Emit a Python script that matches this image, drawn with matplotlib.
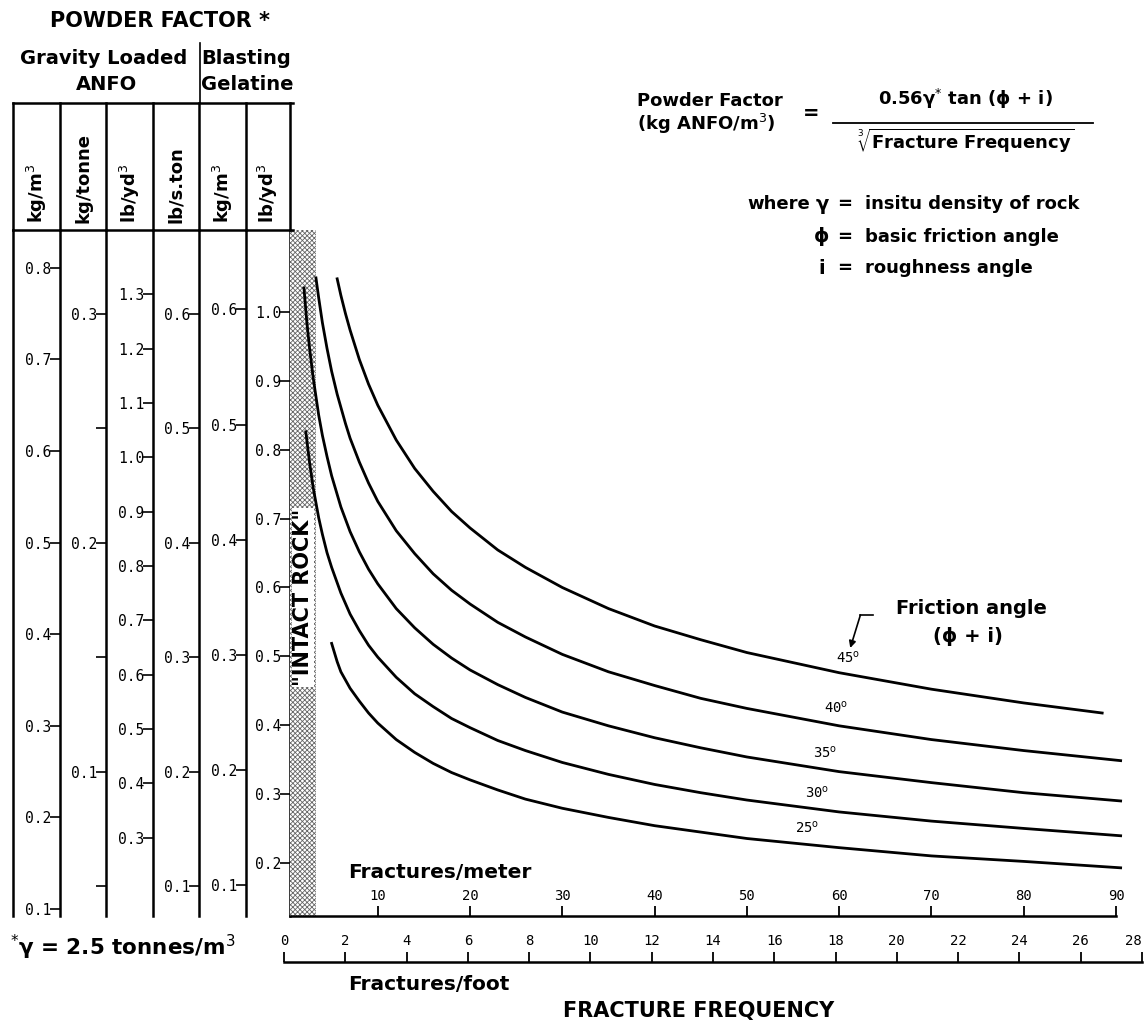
import matplotlib
matplotlib.use("Agg")
import matplotlib.pyplot as plt

# Powder factor (kg ANFO/m3) against fracture frequency (fractures/metre)
angle_labels = ["45", "40", "35", "30", "25"]

ff_45 = [5.6, 6.0, 6.5, 7.0, 8, 9, 10, 12, 14, 16, 18, 20, 23, 26, 30, 35, 40, 45, 50, 60, 70, 80, 88.5]
pf_45 = [0.788, 0.770, 0.750, 0.732, 0.700, 0.673, 0.650, 0.612, 0.581, 0.556, 0.534, 0.516,
         0.492, 0.473, 0.451, 0.428, 0.409, 0.394, 0.380, 0.358, 0.340, 0.325, 0.314]

ff_40 = [3.3, 3.6, 4.0, 4.5, 5.0, 5.6, 6.5, 7, 8, 9, 10, 12, 14, 16, 18, 20, 23, 26, 30, 35,
         40, 45, 50, 60, 70, 80, 90.5]
pf_40 = [0.789, 0.767, 0.740, 0.712, 0.687, 0.662, 0.630, 0.614, 0.588, 0.565, 0.545, 0.513,
         0.488, 0.466, 0.448, 0.433, 0.413, 0.397, 0.378, 0.359, 0.344, 0.330, 0.319, 0.300,
         0.285, 0.273, 0.262]

ff_35 = [2.0, 2.3, 2.6, 3.0, 3.6, 4.0, 4.5, 5.0, 6.0, 7.0, 8, 9, 10, 12, 14, 16, 18, 20, 23,
         26, 30, 35, 40, 45, 50, 60, 70, 80, 90.5]
pf_35 = [0.778, 0.742, 0.713, 0.680, 0.639, 0.617, 0.594, 0.573, 0.539, 0.512, 0.490, 0.471,
         0.455, 0.428, 0.407, 0.389, 0.374, 0.361, 0.345, 0.331, 0.315, 0.300, 0.287, 0.276,
         0.266, 0.250, 0.238, 0.227, 0.218]

ff_30 = [2.2, 2.6, 3.0, 3.6, 4.0, 4.5, 5.0, 6.0, 7.0, 8, 9, 10, 12, 14, 16, 18, 20, 23, 26,
         30, 35, 40, 45, 50, 60, 70, 80, 90.5]
pf_30 = [0.621, 0.588, 0.560, 0.527, 0.509, 0.489, 0.473, 0.445, 0.422, 0.404, 0.388, 0.375,
         0.353, 0.335, 0.321, 0.308, 0.298, 0.284, 0.273, 0.260, 0.247, 0.236, 0.227, 0.219,
         0.206, 0.196, 0.188, 0.180]

ff_25 = [5.0, 5.6, 6.0, 6.5, 7.0, 8, 9, 10, 12, 14, 16, 18, 20, 23, 26, 30, 35, 40, 45, 50,
         60, 70, 80, 90.5]
pf_25 = [0.390, 0.370, 0.359, 0.350, 0.341, 0.327, 0.314, 0.303, 0.285, 0.271, 0.259, 0.249,
         0.241, 0.230, 0.220, 0.210, 0.200, 0.191, 0.184, 0.177, 0.167, 0.158, 0.152, 0.145]

curves = [(ff_45, pf_45), (ff_40, pf_40), (ff_35, pf_35), (ff_30, pf_30), (ff_25, pf_25)]
label_pos = [(61.0, 0.366), (59.7, 0.311), (58.5, 0.262), (57.6, 0.218), (56.5, 0.180)]

# powder factor scales on the left
col_units = ["kg/m$^3$", "kg/tonne", "lb/yd$^3$", "lb/s.ton", "kg/m$^3$", "lb/yd$^3$"]
col_factor = [1.0, 0.4, 1.6856, 0.8, 0.795, 1.33]   # unit per kg ANFO/m3
col_ticks = [
    [0.1, 0.2, 0.3, 0.4, 0.5, 0.6, 0.7, 0.8],
    [0.1, 0.2, 0.3],
    [0.3, 0.4, 0.5, 0.6, 0.7, 0.8, 0.9, 1.0, 1.1, 1.2, 1.3],
    [0.1, 0.2, 0.3, 0.4, 0.5, 0.6],
    [0.1, 0.2, 0.3, 0.4, 0.5, 0.6],
    [0.2, 0.3, 0.4, 0.5, 0.6, 0.7, 0.8, 0.9, 1.0],
]
col_minor = [[], [0.05, 0.15, 0.25], [], [], [], []]

metre_ticks = [10, 20, 30, 40, 50, 60, 70, 80, 90]
foot_ticks = list(range(0, 29, 2))
intact_limit = 3.28   # 1 fracture per foot

W, H = 1148, 1025
TOP, BOT = 230, 916
V_BOT, V_TOP = 0.0924, 0.8413
MONO = "DejaVu Sans Mono"
LW = 1.8

plt.rcParams["mathtext.fontset"] = "dejavusans"
plt.rcParams["hatch.linewidth"] = 0.6

fig = plt.figure(figsize=(W / 100, H / 100), dpi=100)


def px_axes(x0, y0, x1, y1):
    a = fig.add_axes([x0 / W, 1 - y1 / H, (x1 - x0) / W, (y1 - y0) / H])
    a.patch.set_visible(False)
    return a


# ---- left columns
col_x = [13, 60, 106, 153, 199, 246, 290]
for i in range(6):
    c = px_axes(col_x[i], TOP, col_x[i + 1], BOT)
    f = col_factor[i]
    c.set_ylim(V_BOT * f, V_TOP * f)
    c.set_xticks([])
    for s in ["top", "bottom", "left"]:
        c.spines[s].set_visible(False)
    if i == 0:
        c.spines["left"].set_visible(True)
    c.spines["left"].set_linewidth(LW)
    c.spines["right"].set_linewidth(LW)
    c.yaxis.tick_right()
    c.set_yticks(col_ticks[i])
    c.set_yticklabels([f"{t:.1f}" for t in col_ticks[i]])
    if col_minor[i]:
        c.set_yticks(col_minor[i], minor=True)
    c.tick_params(axis="y", which="both", direction="in", length=7, width=1.2,
                  pad=-6.0, labelsize=10.5, labelfontfamily=MONO,
                  left=False, right=True, labelleft=False, labelright=True)
    for t in c.yaxis.get_major_ticks():
        t.label2.set_horizontalalignment("right")

# ---- main chart
x_lo = (290 - 285.5) / 9.228
x_hi = (1130 - 285.5) / 9.228
ax = px_axes(290, TOP, 1130, BOT)
ax.set_xlim(x_lo, x_hi)
ax.set_ylim(V_BOT, V_TOP)
for s in ["top", "right", "left"]:
    ax.spines[s].set_visible(False)
ax.spines["bottom"].set_linewidth(LW)
ax.spines["bottom"].set_bounds(x_lo, 90)
ax.set_yticks([])
ax.set_xticks(metre_ticks)
ax.set_xticklabels([str(t) for t in metre_ticks])
ax.tick_params(axis="x", direction="in", length=7, width=1.3, pad=-9,
               labelsize=10, labelfontfamily=MONO)
for t in ax.xaxis.get_major_ticks():
    t.label1.set_verticalalignment("bottom")

ax.axvspan(x_lo, intact_limit, facecolor="white", edgecolor="0.4", hatch="xxxxxxx", linewidth=0)
ax.text((x_lo + intact_limit) / 2, 0.44, '"INTACT ROCK"', rotation=90, ha="center", va="center",
        fontsize=15, fontweight="bold",
        bbox=dict(facecolor="white", edgecolor="none", pad=0.5))

for (xs, ys), lab, (lx, ly) in zip(curves, angle_labels, label_pos):
    ax.plot(xs, ys, color="black", lw=2.0, solid_joinstyle="round")
    ax.text(lx, ly, lab + r"$^{\mathrm{o}}$", ha="center", va="bottom", fontsize=10, family=MONO)

ax.text(74.3, 0.4286, "Friction angle", ha="center", va="center", fontsize=14, fontweight="bold")
ax.text(74.0, 0.397, "(ϕ + i)", ha="center", va="center", fontsize=14, fontweight="bold")
ax.plot([63.7, 62.3], [0.421, 0.421], color="black", lw=1.2)
ax.annotate("", xy=(61.2, 0.385), xytext=(62.3, 0.421),
            arrowprops=dict(arrowstyle="-|>", color="black", lw=1.2, mutation_scale=10,
                            shrinkA=0, shrinkB=0))

# ---- fractures per foot scale
af = px_axes(284, 930, 1142, 962)
af.set_xlim(0, 28)
af.set_yticks([])
for s in ["top", "right", "left"]:
    af.spines[s].set_visible(False)
af.spines["bottom"].set_linewidth(LW)
af.set_xticks(foot_ticks)
af.set_xticklabels([str(t) for t in foot_ticks])
af.tick_params(axis="x", direction="in", length=7, width=1.3, pad=-10,
               labelsize=10, labelfontfamily=MONO)
for t in af.xaxis.get_major_ticks():
    t.label1.set_verticalalignment("bottom")
af.xaxis.get_major_ticks()[-1].label1.set_horizontalalignment("right")

# ---- header, formula and notes (pixel coordinates)
d = fig.add_axes([0, 0, 1, 1])
d.set_xlim(0, W)
d.set_ylim(H, 0)
d.axis("off")
B = dict(fontweight="bold", color="black")

d.text(160, 21, "POWDER FACTOR *", ha="center", va="center", fontsize=15, **B)
d.text(104, 58, "Gravity Loaded", ha="center", va="center", fontsize=14, **B)
d.text(107, 85, "ANFO", ha="center", va="center", fontsize=14, **B)
d.text(246, 58, "Blasting", ha="center", va="center", fontsize=14, **B)
d.text(247, 85, "Gelatine", ha="center", va="center", fontsize=14, **B)
d.plot([200, 200], [43, 103], color="black", lw=1.2)
d.plot([col_x[0], col_x[-1] + 3], [103, 103], color="black", lw=LW)
d.plot([col_x[0], col_x[-1] + 3], [TOP, TOP], color="black", lw=LW)
for x in col_x:
    d.plot([x, x], [103, TOP], color="black", lw=LW)
for i, u in enumerate(col_units):
    d.text((col_x[i] + col_x[i + 1]) / 2, 223, u, rotation=90, ha="center", va="bottom",
           fontsize=13, **B)

d.text(637, 101, "Powder Factor", ha="left", va="center", fontsize=13, **B)
d.text(637, 124, "(kg ANFO/m$^3$)", ha="left", va="center", fontsize=13, **B)
d.text(811, 113, "=", ha="center", va="center", fontsize=14, **B)
d.text(965, 99, "0.56γ$^{*}$ tan (ϕ + i)", ha="center", va="center", fontsize=13, **B)
d.plot([833, 1093], [123, 123], color="black", lw=1.3)
d.text(966, 141, r"$\sqrt[3]{\mathbf{Fracture\ Frequency}}$", ha="center", va="center", fontsize=13)

for y, sym, desc in [(204, "γ", "insitu density of rock"),
                     (237, "ϕ", "basic friction angle"),
                     (268, "i", "roughness angle")]:
    d.text(822, y, sym, ha="center", va="center", fontsize=14, **B)
    d.text(845, y, "=", ha="center", va="center", fontsize=13, **B)
    d.text(865, y, desc, ha="left", va="center", fontsize=13, **B)
d.text(810, 204, "where", ha="right", va="center", fontsize=13, **B)

d.text(348, 873, "Fractures/meter", ha="left", va="center", fontsize=14.5, **B)
d.text(348, 985, "Fractures/foot", ha="left", va="center", fontsize=14.5, **B)
d.text(563, 1011, "FRACTURE FREQUENCY", ha="left", va="center", fontsize=15, **B)
d.text(10, 947, "$^{*}$γ = 2.5 tonnes/m$^3$", ha="left", va="center", fontsize=15.5, **B)

fig.savefig("out.png", dpi=100, facecolor="white")
